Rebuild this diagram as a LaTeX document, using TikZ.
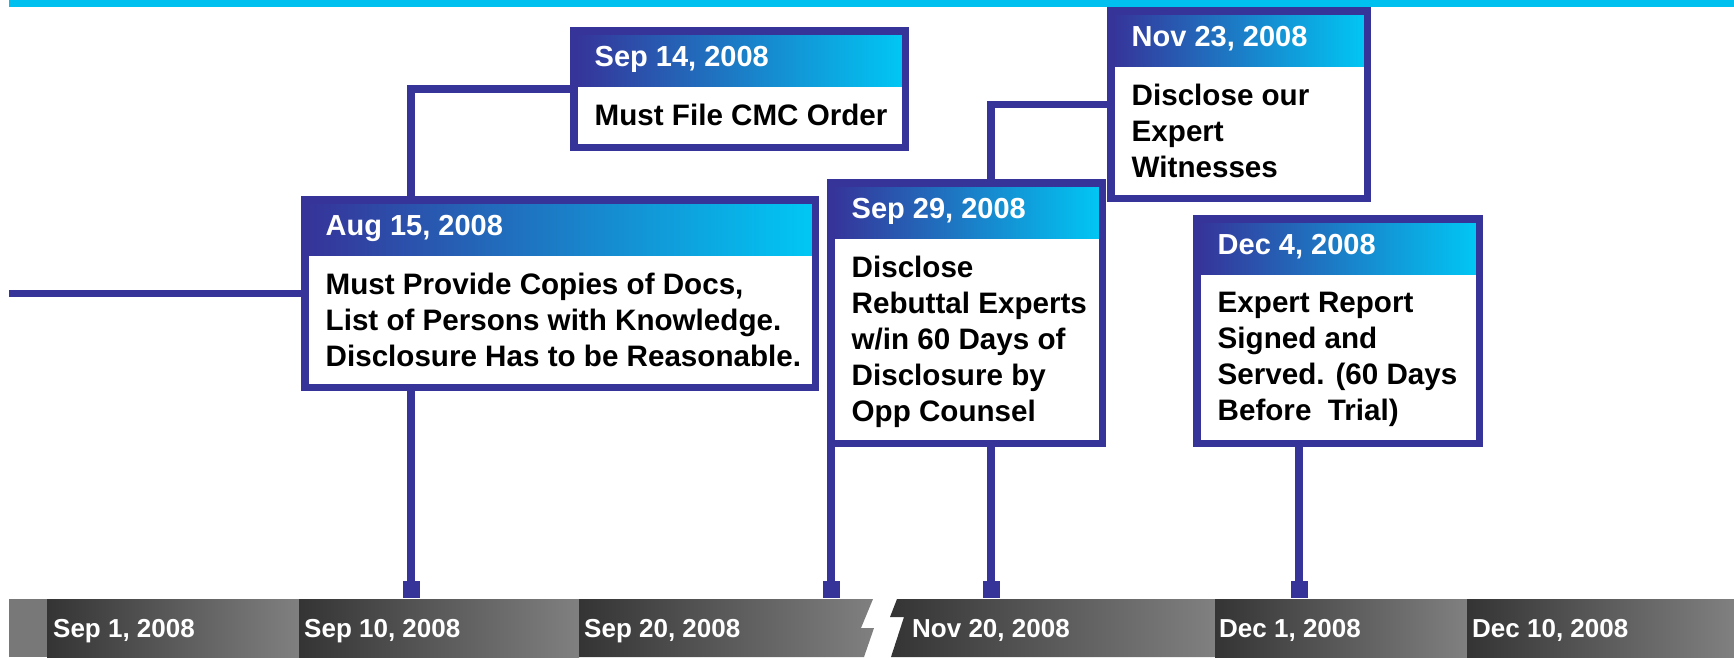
\documentclass[tikz,border=0pt]{standalone}
\usepackage{fontspec}
\setmainfont{Liberation Sans}
\definecolor{lineblue}{RGB}{54,51,153}
\definecolor{hdcyan}{RGB}{0,200,245}
\definecolor{topcyan}{RGB}{0,192,240}
\definecolor{bardark}{RGB}{52,52,52}
\definecolor{barlight}{RGB}{128,128,128}
\definecolor{barstub}{RGB}{120,120,120}
\tikzset{
  evt/.style={draw=lineblue, line width=7.5pt, fill=white, inner sep=0pt,
    outer sep=3.75pt, anchor=north west,
    path picture={\shade[left color=lineblue, right color=hdcyan]
      (path picture bounding box.north west) rectangle
      ([yshift=-55.75pt]path picture bounding box.north east);}},
  datetxt/.style={anchor=base west, inner sep=0pt, text=white,
    font=\bfseries\fontsize{29}{34}\selectfont},
  bodytxt/.style={anchor=north west, inner sep=0pt, align=left,
    font=\bfseries\fontsize{29.6}{36}\selectfont},
  conn/.style={draw=lineblue, line width=7.5pt},
  tickbox/.style={fill=lineblue, minimum size=17pt, inner sep=0pt},
  barlbl/.style={anchor=base west, inner sep=0pt, text=white,
    font=\bfseries\fontsize{26}{30}\selectfont},
  barseg/.style={left color=bardark, right color=barlight},
}

\begin{document}
\begin{tikzpicture}[x=1pt, y=-1pt]
  \useasboundingbox (0,0) rectangle (1734,657);
  \fill[topcyan] (9,0) rectangle (1734,7);

  % event boxes
  \node[evt, minimum width=510.5pt, minimum height=187.5pt] (aug) at (301,196) {};
  \node[datetxt] (augd) at ([xshift=24.5pt, yshift=-39pt]aug.north west) {Aug 15, 2008};
  \node[bodytxt] (augb) at ([xshift=24.5pt, yshift=-76.5pt]aug.north west)
    {Must Provide Copies of Docs,\\List of Persons with Knowledge.\\Disclosure Has to be Reasonable.};

  \node[evt, minimum width=331.5pt, minimum height=116.5pt] (sep) at (570,27) {};
  \node[datetxt] (sepd) at ([xshift=24.5pt, yshift=-39pt]sep.north west) {Sep 14, 2008};
  \node[bodytxt] (sepb) at ([xshift=24.5pt, yshift=-76.5pt]sep.north west) {Must File CMC Order};

  \node[evt, minimum width=271.5pt, minimum height=260.5pt] (reb) at (827,179) {};
  \node[datetxt] (rebd) at ([xshift=24.5pt, yshift=-39pt]reb.north west) {Sep 29, 2008};
  \node[bodytxt] (rebb) at ([xshift=24.5pt, yshift=-76.5pt]reb.north west)
    {Disclose\\Rebuttal Experts\\w/in 60 Days of\\Disclosure by\\Opp Counsel};

  \node[evt, minimum width=256.5pt, minimum height=187.5pt] (nov) at (1107,7) {};
  \node[datetxt] (novd) at ([xshift=24.5pt, yshift=-39pt]nov.north west) {Nov 23, 2008};
  \node[bodytxt] (novb) at ([xshift=24.5pt, yshift=-76.5pt]nov.north west)
    {Disclose our\\Expert\\Witnesses};

  \node[evt, minimum width=282.5pt, minimum height=224.5pt] (dec) at (1193,215) {};
  \node[datetxt] (decd) at ([xshift=24.5pt, yshift=-39pt]dec.north west) {Dec 4, 2008};
  \node[bodytxt] (decb) at ([xshift=24.5pt, yshift=-76.5pt]dec.north west)
    {Expert Report\\Signed and\\Served. (60 Days\\Before~ Trial)};

  % ticks on the time line
  \node[tickbox] (m1) at (411,589.5) {};
  \node[tickbox] (m2) at (831,589.5) {};
  \node[tickbox] (m3) at (991,589.5) {};
  \node[tickbox] (m4) at (1299,589.5) {};

  % connectors
  \coordinate (lstart) at (9,293.5);
  \draw[conn] (lstart) -- (aug.west);
  \draw[conn] (aug.north -| m1) |- (sep.west);
  \draw[conn] (aug.south -| m1) -- (m1.north);
  \draw[conn] (reb.south -| m2) -- (m2.north);
  \draw[conn] (nov.west) -| (reb.north -| m3);
  \draw[conn] (reb.south -| m3) -- (m3.north);
  \draw[conn] (dec.south -| m4) -- (m4.north);

  % time line
  \fill[barstub] (9,599) rectangle (47,657);
  \shade[barseg] (47,599) rectangle (299,657);
  \shade[barseg] (299,599) rectangle (579,657);
  \shade[barseg] (579,599) -- (873,599) -- (861,628) -- (874,628) -- (864,657) -- (579,657) -- cycle;
  \shade[barseg] (897,599) -- (1215,599) -- (1215,657) -- (891,657) -- (904,617) -- (890,617) -- cycle;
  \shade[barseg] (1215,599) rectangle (1467,657);
  \shade[barseg] (1467,599) rectangle (1734,657);
  \node[barlbl] (t1) at (53,637) {Sep 1, 2008};
  \node[barlbl] (t2) at (304,637) {Sep 10, 2008};
  \node[barlbl] (t3) at (584,637) {Sep 20, 2008};
  \node[barlbl] (t4) at (912,637) {Nov 20, 2008};
  \node[barlbl] (t5) at (1219,637) {Dec 1, 2008};
  \node[barlbl] (t6) at (1472,637) {Dec 10, 2008};
\end{tikzpicture}
\end{document}
